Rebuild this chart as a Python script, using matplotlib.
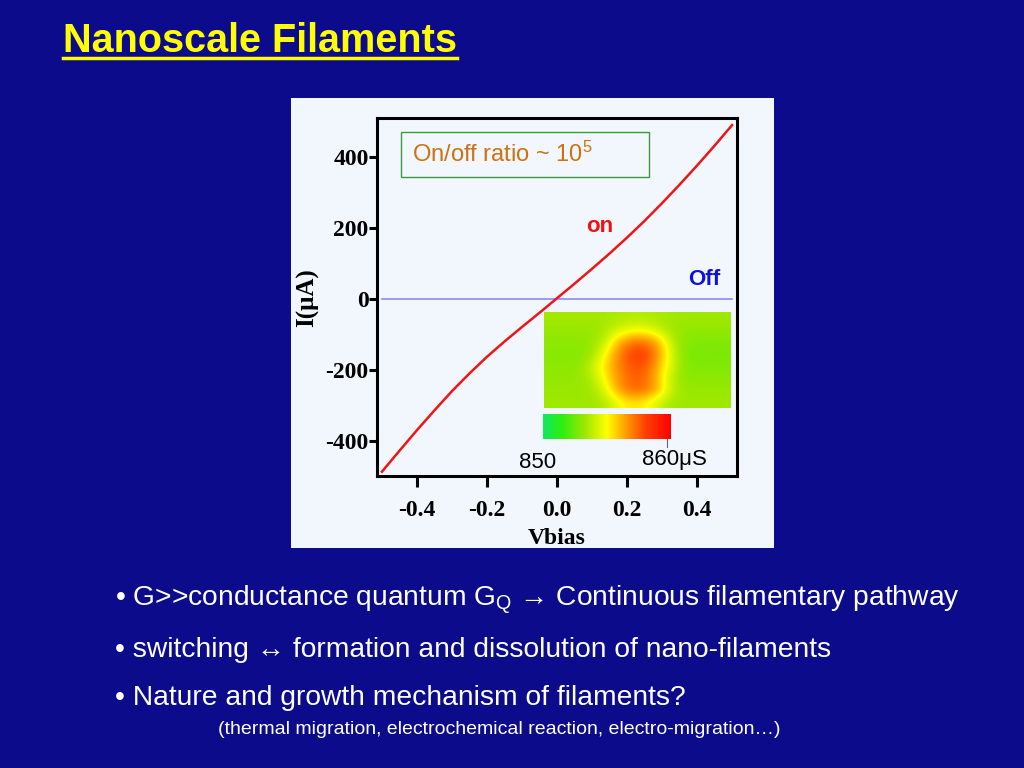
import matplotlib
matplotlib.use("Agg")
import matplotlib.pyplot as plt
import numpy as np
from matplotlib.colors import LinearSegmentedColormap
from matplotlib.patches import Rectangle
from matplotlib.lines import Line2D

plt.rcParams['mathtext.fontset'] = 'custom'
plt.rcParams['mathtext.rm'] = 'Liberation Sans'
plt.rcParams['mathtext.it'] = 'Liberation Sans:italic'
plt.rcParams['mathtext.bf'] = 'Liberation Sans:bold'

# I-V curve (on state)
vbias = [-0.50, -0.45, -0.40, -0.35, -0.30, -0.25, -0.20, -0.15, -0.10, -0.05,
         0.00, 0.05, 0.10, 0.15, 0.20, 0.25, 0.30, 0.35, 0.40, 0.45, 0.50]
current = [-487, -428, -370, -314, -260, -210, -163, -120, -79, -39,
           2, 43, 85, 128, 173, 220, 270, 322, 376, 432, 490]
off_v = [-0.50, 0.50]
off_i = [0, 0]

xticks = [-0.4, -0.2, 0.0, 0.2, 0.4]
yticks = [-400, -200, 0, 200, 400]

# conductance map (scaled 0..1 on the colour scale), rows top to bottom
cmap_grid = [
    [0.34, 0.34, 0.34, 0.34, 0.34, 0.35, 0.36, 0.36, 0.35, 0.34, 0.33, 0.33, 0.33, 0.33],
    [0.32, 0.32, 0.32, 0.32, 0.34, 0.41, 0.47, 0.47, 0.41, 0.33, 0.31, 0.31, 0.31, 0.31],
    [0.30, 0.30, 0.30, 0.31, 0.38, 0.60, 0.72, 0.73, 0.64, 0.40, 0.29, 0.28, 0.28, 0.28],
    [0.29, 0.29, 0.29, 0.31, 0.48, 0.68, 0.80, 0.82, 0.68, 0.44, 0.28, 0.27, 0.27, 0.27],
    [0.30, 0.30, 0.30, 0.39, 0.54, 0.68, 0.77, 0.78, 0.63, 0.44, 0.29, 0.28, 0.28, 0.28],
    [0.31, 0.31, 0.31, 0.35, 0.50, 0.66, 0.74, 0.74, 0.60, 0.38, 0.30, 0.30, 0.30, 0.30],
    [0.32, 0.32, 0.32, 0.33, 0.43, 0.64, 0.74, 0.74, 0.63, 0.40, 0.32, 0.32, 0.32, 0.32],
    [0.33, 0.33, 0.33, 0.33, 0.35, 0.46, 0.54, 0.51, 0.42, 0.34, 0.33, 0.33, 0.33, 0.33],
]

bullets = [
    "\u2022 G>>conductance quantum G$_\\mathrm{Q}$ \u2192 Continuous filamentary pathway",
    "\u2022 switching \u2194 formation and dissolution of nano-filaments",
    "\u2022 Nature and growth mechanism of filaments?",
]
sub_note = "(thermal migration, electrochemical reaction, electro-migration\u2026)"

bg_blue = '#0B0B8C'
panel = '#F1F7FD'

fig = plt.figure(figsize=(10.24, 7.68), dpi=100, facecolor=bg_blue)

# light panel behind the chart
fig.patches.append(Rectangle((291/1024, 1-548/768), 483/1024, 450/768,
                             transform=fig.transFigure, facecolor=panel,
                             edgecolor='none', zorder=-5))

ax = fig.add_axes([377/1024, 1-476/768, 360/1024, 358/768])
ax.set_facecolor(panel)
ax.plot(off_v, off_i, color='#8C8CF0', lw=1.2)
ax.plot(vbias, current, color='#EE1515', lw=1.8)
ax.set_xlim(-0.514, 0.514)
ax.set_ylim(-499, 510)
ax.set_xticks(xticks)
ax.set_yticks(yticks)
ax.set_xticklabels(['%.1f' % v for v in xticks])
ax.set_yticklabels([str(v) for v in yticks])
for s in ax.spines.values():
    s.set_linewidth(2.2)
ax.tick_params(axis='x', direction='out', length=8, width=2.2, pad=9)
ax.tick_params(axis='y', direction='out', length=6, width=2.2, pad=0)
for lab in ax.get_xticklabels() + ax.get_yticklabels():
    lab.set_fontfamily('Liberation Serif')
    lab.set_fontweight('bold')
    lab.set_fontsize(17)

ax.text(0.123, 204, 'on', color='#EE1111', fontsize=16, fontweight='bold',
        family='Liberation Sans', ha='center', va='center')
ax.text(0.42, 54, 'Off', color='#1010DD', fontsize=16, fontweight='bold',
        family='Liberation Sans', ha='center', va='center')

ax.add_patch(Rectangle((0.0667, 0.8352), 0.689, 0.1257, transform=ax.transAxes,
                       facecolor='none', edgecolor='#3C9A3C', lw=1.0))
ax.text(0.097, 0.898, 'On/off ratio ~ 10$^5$', transform=ax.transAxes,
        color='#D07010', fontsize=17, family='Liberation Sans', va='center', ha='left')

fig.text(308/1024, 1-298/768, 'I(\u03bcA)', rotation=90, fontsize=18, fontweight='bold',
         family='Liberation Serif', ha='center', va='center')
fig.text(557/1024, 1-539/768, 'Vbias', fontsize=17, fontweight='bold',
         family='Liberation Serif', ha='center', va='center')

# conductance map inset and its colour scale
cm = LinearSegmentedColormap.from_list('gmap', [
    (0.0, '#10E860'), (0.15, '#30EE10'), (0.33, '#A0E800'), (0.5, '#FFFF00'),
    (0.62, '#FFB000'), (0.8, '#FF4000'), (1.0, '#FF0000')])

axm = fig.add_axes([544/1024, 1-408/768, 187/1024, 96/768])
axm.imshow(np.array(cmap_grid), cmap=cm, vmin=0, vmax=1, aspect='auto',
           interpolation='bicubic')
axm.set_axis_off()

axc = fig.add_axes([543/1024, 1-439/768, 128/1024, 25/768])
axc.imshow(np.linspace(0, 1, 256)[None, :], cmap=cm, aspect='auto',
           extent=[850, 860.3, 0, 1])
axc.set_axis_off()
fig.add_artist(Line2D([667/1024, 667/1024], [1-439/768, 1-447/768],
                      color='#666666', lw=0.8, transform=fig.transFigure))
fig.text(538/1024, 1-462/768, '850', fontsize=16, family='Liberation Sans',
         ha='center', va='center')
fig.text(674/1024, 1-459/768, '860\u03bcS', fontsize=16, family='Liberation Sans',
         ha='center', va='center')

# title with underline
title = fig.text(63/1024, 1-52/768, 'Nanoscale Filaments', color='#FFFF00',
                 fontsize=28.5, fontweight='bold', family='Liberation Sans',
                 ha='left', va='baseline')
fig.canvas.draw()
bb = title.get_window_extent().transformed(fig.transFigure.inverted())
fig.add_artist(Line2D([bb.x0, bb.x1], [1-58/768, 1-58/768], color='#FFFF00',
                      lw=2.5, transform=fig.transFigure))

# bullet text
ys = [600, 650, 698]
for txt, y in zip(bullets, ys):
    fig.text(115/1024, 1-y/768, txt, color='white', fontsize=20.3,
             family=['Liberation Sans', 'DejaVu Sans'], ha='left', va='center')
fig.text(218/1024, 1-730/768, sub_note, color='white', fontsize=14,
         family=['Liberation Sans', 'DejaVu Sans'], ha='left', va='center')

fig.savefig('out.png', dpi=100, facecolor=bg_blue)
